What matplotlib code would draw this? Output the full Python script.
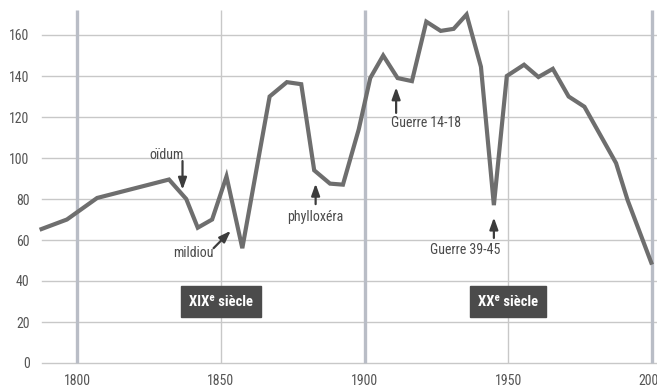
import matplotlib
matplotlib.use("Agg")
import matplotlib.pyplot as plt
from matplotlib import font_manager

# ---- data ----
years = [1787, 1796.5, 1807, 1832, 1838, 1842, 1847, 1852, 1857.5, 1867, 1873,
         1878, 1882.5, 1888, 1892.5, 1898, 1902, 1906.5, 1911.5, 1916.5, 1921.5,
         1926.5, 1931, 1935.5, 1940.5, 1945, 1949.5, 1955.5, 1960.5, 1965.5,
         1971, 1976.5, 1987.5, 1991.5, 2000]
values = [65, 70, 80.5, 89.5, 80, 66, 70, 91, 56, 130, 137,
          136, 94, 87.5, 87, 114, 139, 150, 139, 137.5, 166.5,
          162, 163, 170, 144.5, 77, 140, 145.5, 139.5, 143.5,
          130, 125, 97.5, 79.5, 48]

y_ticks = [0, 20, 40, 60, 80, 100, 120, 140, 160]
x_ticks = [1800, 1850, 1900, 1950, 2000]
century_lines = [1800, 1900, 2000]
half_lines = [1850, 1950]

ann_labels = ["oïdum", "mildiou", "phylloxéra", "Guerre 14-18", "Guerre 39-45"]
ann_text_xy = [(1831, 101.5), (1840.5, 53.5), (1883, 71), (1921.5, 117), (1935, 55)]
ann_tail_xy = [(1836.7, 98.5), (1847.5, 56), (1883, 77.5), (1911, 122), (1945, 61)]
ann_head_xy = [(1836.7, 84.5), (1853.5, 64.5), (1883, 87.5), (1911, 134.5), (1945, 71)]

century_labels = ["XIX\u1d49 siècle", "XX\u1d49 siècle"]
century_label_xy = [(1850, 30), (1950, 30)]

# ---- fonts: prefer a narrow/condensed sans ----
ttf = font_manager.fontManager.ttflist
names = {f.name for f in ttf}
main_font = None
stretch = "normal"
for cand in ["Liberation Sans Narrow", "Arial Narrow", "Roboto Condensed",
             "Open Sans Condensed", "Noto Sans Condensed"]:
    if cand in names:
        main_font = cand
        break
if main_font is None:
    for f in ttf:
        st = f.stretch if isinstance(f.stretch, str) else str(f.stretch)
        if ("condensed" in st.lower() and "extra" not in st.lower()
                and "ultra" not in st.lower() and "semi" not in st.lower()
                and f.style == "normal"):
            if f.name in ("Noto Sans", "Roboto", "Open Sans", "Inter", "Lato", "DejaVu Sans"):
                main_font = f.name
                stretch = "condensed"
                break
if main_font is None:
    for f in ttf:
        if "Condensed" in f.name or "Narrow" in f.name:
            main_font = f.name
            break
if main_font is None:
    main_font = "Liberation Sans"
fam = [main_font, "DejaVu Sans"]
plt.rcParams['font.family'] = fam
plt.rcParams['font.stretch'] = stretch

W, H = 657, 387
fig = plt.figure(figsize=(W / 100, H / 100), dpi=100)
left_px, right_px = 38, 657
ymin, ymax = -2, 172
bottom_px = 363 + 2 * 2.05
top_px = 363 - 172 * 2.05
ax = fig.add_axes([left_px / W, (H - bottom_px) / H,
                   (right_px - left_px) / W, (bottom_px - top_px) / H])
xmin = 1800 - (77 - left_px) / 2.875
xmax = 2000 + (right_px - 652) / 2.875
ax.set_xlim(xmin, xmax)
ax.set_ylim(ymin, ymax)

for s in ax.spines.values():
    s.set_visible(False)

for yv in y_ticks:
    ax.axhline(yv, xmin=(1787.8 - xmin) / (xmax - xmin), xmax=1.0,
               color="#c8c8c8", lw=1.0, zorder=1)
for xv in century_lines:
    ax.vlines(xv, 0, ymax, color="#b9bdc6", lw=2.4, zorder=1)
for xv in half_lines:
    ax.vlines(xv, 0, ymax, color="#c8c8c8", lw=1.0, zorder=1)

ax.plot(years, values, color="#6e6e6e", lw=3.0, solid_joinstyle="miter",
        solid_capstyle="butt", zorder=3)

for lab, txy, tail, head in zip(ann_labels, ann_text_xy, ann_tail_xy, ann_head_xy):
    ax.text(txy[0], txy[1], lab, ha="center", va="center", fontsize=10,
            color="#4a4a4a", zorder=4)
    ax.annotate("", xy=head, xytext=tail,
                arrowprops=dict(arrowstyle="-|>,head_length=0.7,head_width=0.25",
                                color="#3c3c3c", lw=1.6, shrinkA=0, shrinkB=0),
                zorder=4)

for lab, xy in zip(century_labels, century_label_xy):
    ax.text(xy[0], xy[1], lab, ha="center", va="center", fontsize=10.5,
            fontweight="bold", color="white", zorder=5,
            bbox=dict(boxstyle="square,pad=0.55", fc="#4b4b4b", ec="#4b4b4b"))

ax.set_yticks(y_ticks)
ax.set_xticks(x_ticks)
ax.set_yticklabels([str(v) for v in y_ticks])
ax.set_xticklabels([str(v) for v in x_ticks])
ax.tick_params(axis="y", length=0, pad=6, labelsize=10, labelcolor="#555555")
ax.tick_params(axis="x", length=0, pad=5, labelsize=10, labelcolor="#555555")

fig.savefig("out.png", dpi=100)
